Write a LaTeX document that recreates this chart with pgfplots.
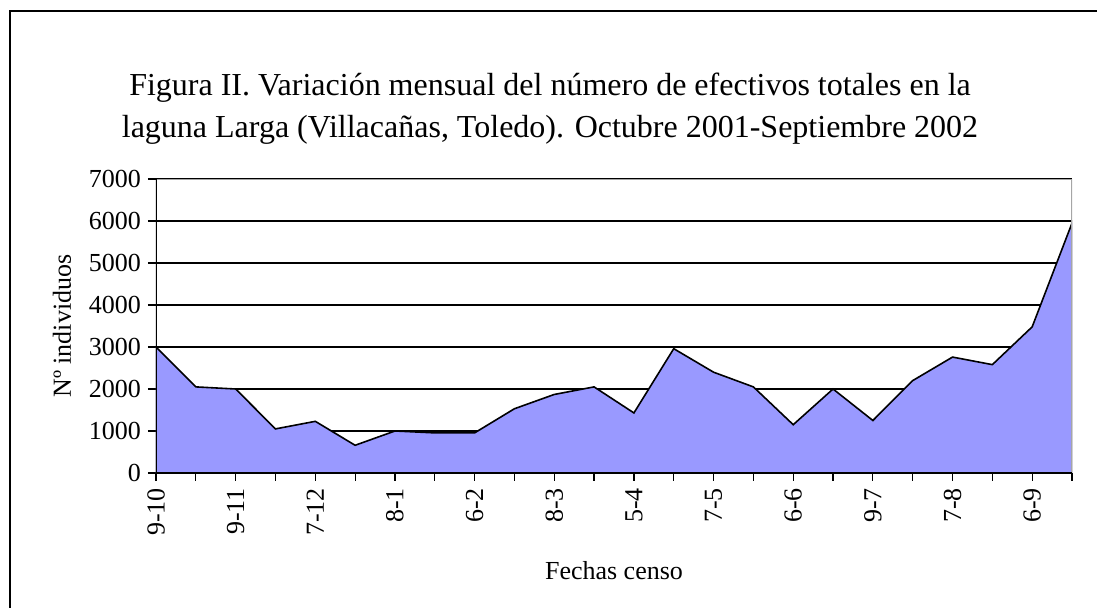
\documentclass[border=0pt]{standalone}
\usepackage{fontspec}
\setmainfont{Liberation Serif}
\usepackage{pgfplots}
\pgfplotsset{compat=1.18}
\definecolor{areafill}{HTML}{9999FF}
\begin{document}
\begin{tikzpicture}[x=1pt,y=1pt]
\useasboundingbox (-78,-67.5) rectangle (470.5,236.5);
\draw[line width=1.2pt] (-73,-70) -- (-73,231) -- (475,231);
\node[align=center, font=\fontsize{16}{21}\selectfont] at (197,182)
  {Figura II. Variación mensual del número de efectivos totales en la\\laguna Larga (Villacañas, Toledo). Octubre 2001-Septiembre 2002};
\begin{axis}[
  at={(0,0)}, anchor=south west,
  scale only axis, width=458pt, height=147pt,
  xmin=0, xmax=23, ymin=0, ymax=7000,
  axis line style={draw=none},
  xtick={0,...,23},
  xticklabels={9-10,,9-11,,7-12,,8-1,,6-2,,8-3,,5-4,,7-5,,6-6,,9-7,,7-8,,6-9,},
  ytick={0,1000,...,7000},
  xtick pos=bottom, ytick pos=left, tick align=outside,
  major tick length=4pt,
  tick style={black, line width=0.6pt},
  ymajorgrids, grid style={black, line width=0.6pt},
  /pgf/number format/assume math mode=true,
  /pgf/number format/1000 sep={},
  scaled y ticks=false,
  ticklabel style={font=\fontsize{13}{13}\selectfont},
  xticklabel style={rotate=90, anchor=east},
  xlabel={Fechas censo},
  ylabel={Nº individuos},
  label style={font=\fontsize{13}{13}\selectfont},
  xlabel style={at={(axis description cs:0.5,-0.333)}, anchor=center},
  ylabel style={at={(axis description cs:-0.1026,0.5)}, anchor=center, rotate=0},
]
\addplot[fill=areafill, draw=black, line width=0.8pt] coordinates {
(0,3000) (1,2050) (2,2000) (3,1050) (4,1230) (5,660) (6,1000) (7,955)
(8,955) (9,1530) (10,1870) (11,2050) (12,1430) (13,2960) (14,2400) (15,2050)
(16,1150) (17,2000) (18,1250) (19,2200) (20,2760) (21,2580) (22,3480) (23,5950)
} \closedcycle;
\draw[gray!70, line width=0.8pt] (rel axis cs:0,1) -- (rel axis cs:1,1) -- (rel axis cs:1,0);
\draw[black, line width=0.8pt] (rel axis cs:0,1) -- (rel axis cs:0,0) -- (rel axis cs:1,0);
\end{axis}
\end{tikzpicture}
\end{document}
